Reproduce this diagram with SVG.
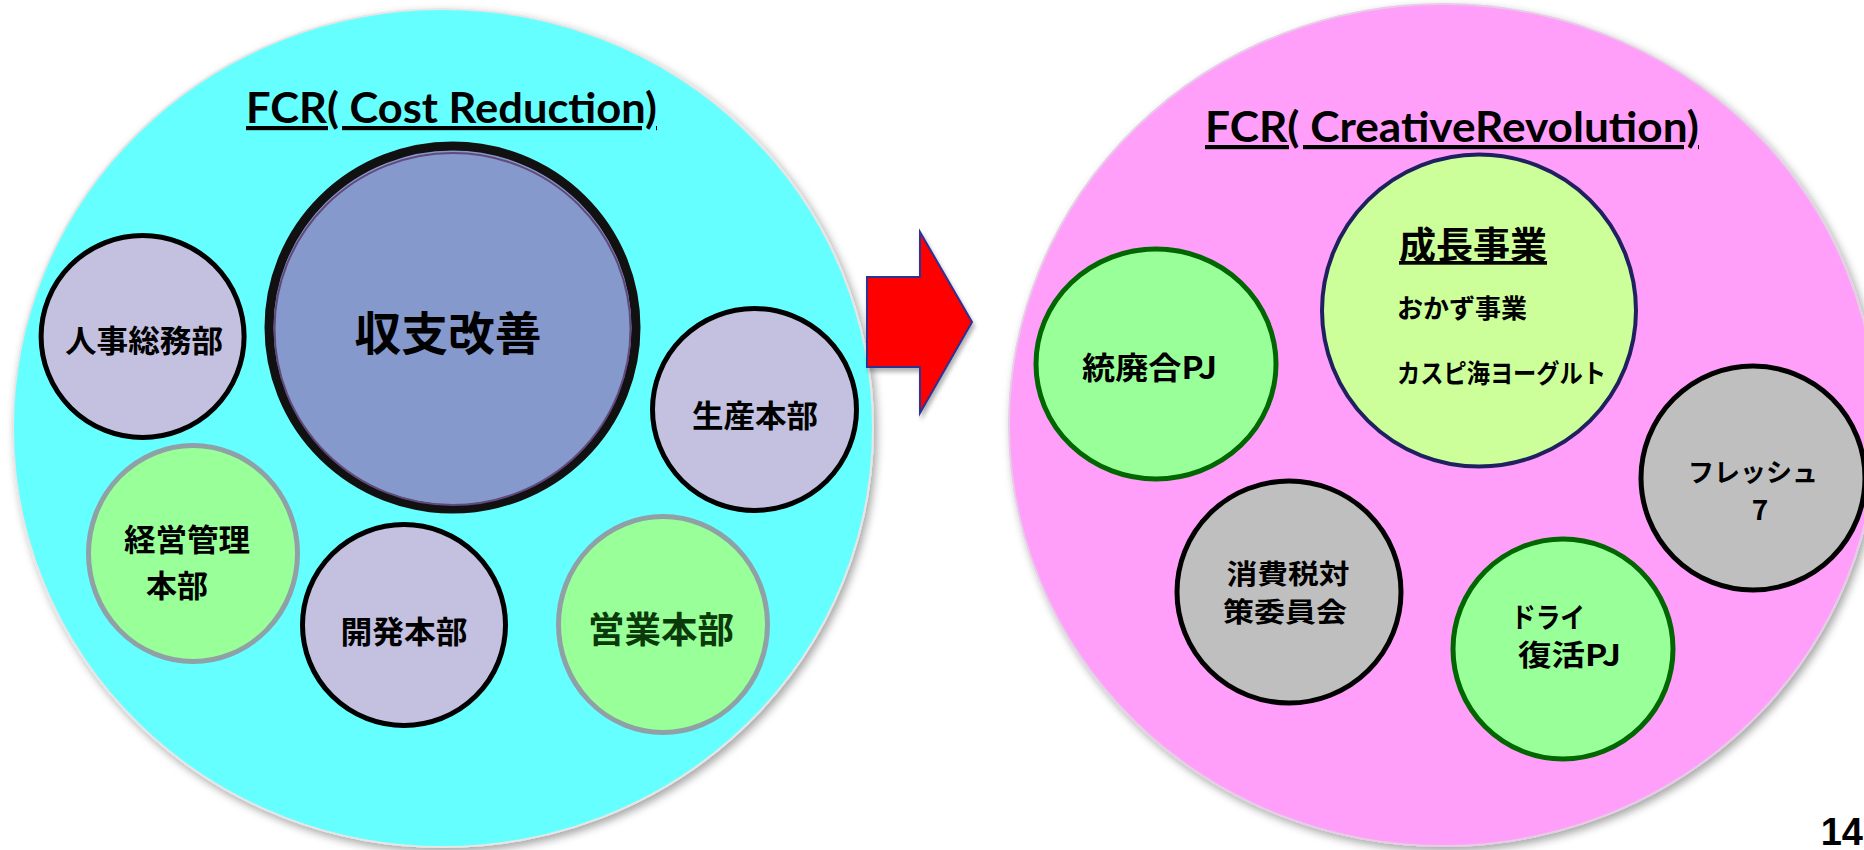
<svg xmlns="http://www.w3.org/2000/svg" width="1864" height="850" viewBox="0 0 1864 850">
<defs>
<filter id="shadow" x="-10%" y="-10%" width="120%" height="120%">
<feGaussianBlur in="SourceAlpha" stdDeviation="4"/>
<feOffset dx="3" dy="4" result="b"/>
<feFlood flood-color="#000" flood-opacity="0.35"/>
<feComposite in2="b" operator="in"/>
<feMerge><feMergeNode/><feMergeNode in="SourceGraphic"/></feMerge>
</filter>
<filter id="ashadow" x="-20%" y="-20%" width="140%" height="140%">
<feGaussianBlur in="SourceAlpha" stdDeviation="2"/>
<feOffset dx="2" dy="4" result="b"/>
<feFlood flood-color="#000" flood-opacity="0.3"/>
<feComposite in2="b" operator="in"/>
<feMerge><feMergeNode/><feMergeNode in="SourceGraphic"/></feMerge>
</filter>
</defs>
<style>
.jp{font-family:"Noto Sans CJK JP","Noto Sans CJK SC",sans-serif;font-weight:bold;fill:#000}
.ttl{font-family:Lato,"Open Sans","Liberation Sans",sans-serif;font-weight:bold;font-size:42px;fill:#000;text-decoration:underline}
.lav{fill:#C4C1E0;stroke:#000;stroke-width:5}
.grn{fill:#99FF99;stroke:#8FA0A6;stroke-width:5}
.grn2{fill:#99FF99;stroke:#006600;stroke-width:5}
.gry{fill:#BFBFBF;stroke:#000;stroke-width:5}
</style>
<rect width="1864" height="850" fill="#FFFFFF"/>

<g id="cost-reduction">
<ellipse cx="443" cy="428" rx="430" ry="419" fill="#66FFFF" stroke="#E6E6E6" stroke-width="2" filter="url(#shadow)"/>
<text class="ttl" x="246" y="123" textLength="411" lengthAdjust="spacingAndGlyphs">FCR( Cost Reduction)</text>
</g>

<g id="shushi-kaizen">
<ellipse cx="452.5" cy="327.5" rx="183.5" ry="181.5" fill="#8599CC" stroke="#111" stroke-width="9"/>
<ellipse cx="452.5" cy="329" rx="178" ry="176" fill="none" stroke="#604A7B" stroke-width="2"/>
<text class="jp" x="448" y="350" font-size="46" text-anchor="middle" textLength="187" lengthAdjust="spacingAndGlyphs">収支改善</text>
</g>

<g id="jinji">
<ellipse class="lav" cx="142.6" cy="336.5" rx="101.5" ry="101"/>
<text class="jp" x="144" y="352" font-size="31" text-anchor="middle" textLength="158" lengthAdjust="spacingAndGlyphs">人事総務部</text>
</g>

<g id="seisan">
<ellipse class="lav" cx="754.5" cy="409.5" rx="102" ry="101"/>
<text class="jp" x="755" y="427" font-size="31" text-anchor="middle" textLength="126" lengthAdjust="spacingAndGlyphs">生産本部</text>
</g>

<g id="keiei">
<ellipse class="grn" cx="193" cy="553.5" rx="104.5" ry="108"/>
<text class="jp" x="187" y="551" font-size="31" text-anchor="middle" textLength="126" lengthAdjust="spacingAndGlyphs">経営管理</text>
<text class="jp" x="177" y="597" font-size="31" text-anchor="middle" textLength="62" lengthAdjust="spacingAndGlyphs">本部</text>
</g>

<g id="kaihatsu">
<ellipse class="lav" cx="404" cy="625" rx="101.5" ry="100.5"/>
<text class="jp" x="404" y="643" font-size="31" text-anchor="middle" textLength="127" lengthAdjust="spacingAndGlyphs">開発本部</text>
</g>

<g id="eigyo">
<ellipse class="grn" cx="663" cy="624.5" rx="104.5" ry="108"/>
<text class="jp" x="661" y="643" font-size="36" text-anchor="middle" textLength="146" lengthAdjust="spacingAndGlyphs" style="fill:#0A3A0A">営業本部</text>
</g>

<g id="connectors">
<polygon points="867,277 920,277 920,232 972,322 920,413 920,367 867,367" fill="#FF0000" stroke="#2E3192" stroke-width="2" filter="url(#ashadow)"/>
</g>

<g id="creative-revolution">
<ellipse cx="1443" cy="425" rx="434" ry="421" fill="#FF9FFA" stroke="#E6CCE6" stroke-width="2" filter="url(#shadow)"/>
<text class="ttl" x="1205" y="142" textLength="494" lengthAdjust="spacingAndGlyphs">FCR( CreativeRevolution)</text>
</g>

<g id="touhaigou">
<ellipse class="grn2" cx="1156" cy="364" rx="120" ry="115"/>
<text class="jp" x="1082" y="379" font-size="31" textLength="135" lengthAdjust="spacingAndGlyphs">統廃合PJ</text>
</g>

<g id="seichou">
<ellipse cx="1479" cy="310.5" rx="157" ry="156" fill="#CCFF99" stroke="#1F2060" stroke-width="4"/>
<text class="jp" x="1399" y="259" font-size="37" textLength="148" lengthAdjust="spacingAndGlyphs" text-decoration="underline">成長事業</text>
<text class="jp" x="1397" y="318" font-size="26" textLength="130" lengthAdjust="spacingAndGlyphs">おかず事業</text>
<text class="jp" x="1397" y="383" font-size="26" textLength="209" lengthAdjust="spacingAndGlyphs">カスピ海ヨーグルト</text>
</g>

<g id="fresh7">
<ellipse class="gry" cx="1753" cy="478" rx="112" ry="112"/>
<text class="jp" x="1753" y="482" font-size="26" text-anchor="middle" textLength="130" lengthAdjust="spacingAndGlyphs">フレッシュ</text>
<text class="jp" x="1760" y="520" font-size="28" text-anchor="middle">7</text>
</g>

<g id="shouhizei">
<ellipse class="gry" cx="1289" cy="592" rx="112" ry="111"/>
<text class="jp" x="1288" y="584" font-size="27" text-anchor="middle" textLength="123" lengthAdjust="spacingAndGlyphs">消費税対</text>
<text class="jp" x="1285" y="622" font-size="27" text-anchor="middle" textLength="124" lengthAdjust="spacingAndGlyphs">策委員会</text>
</g>

<g id="dry">
<ellipse class="grn2" cx="1563" cy="649" rx="110" ry="110"/>
<text class="jp" x="1511" y="628" font-size="28" textLength="74" lengthAdjust="spacingAndGlyphs">ドライ</text>
<text class="jp" x="1518" y="666" font-size="29" textLength="103" lengthAdjust="spacingAndGlyphs">復活PJ</text>
</g>

<text x="1863" y="845" font-family="'Liberation Sans',Arial,sans-serif" font-weight="bold" font-size="38" text-anchor="end" fill="#000">14</text>
</svg>
